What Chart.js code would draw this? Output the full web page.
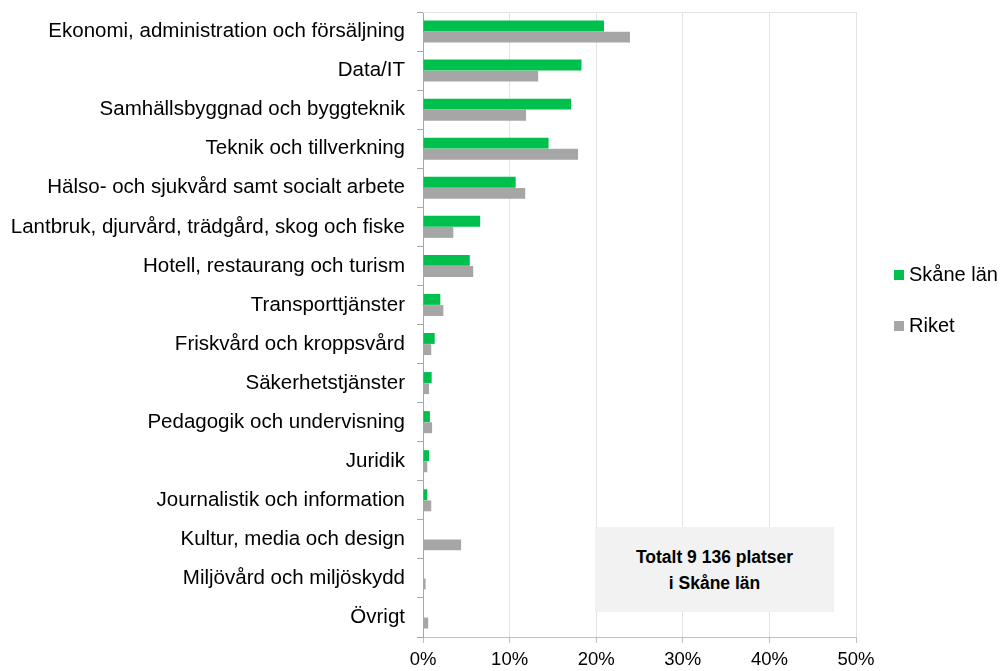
<!DOCTYPE html>
<html lang="sv">
<head>
<meta charset="utf-8">
<script src="https://cdn.jsdelivr.net/npm/chart.js@4"></script>
<style>
  html, body { margin: 0; padding: 0; background: #fff; }
  .wrap { position: relative; width: 1003px; height: 671px; font-family: 'Liberation Sans', Arial, sans-serif; }
  canvas { display: block; }
  .legend { position: absolute; left: 894px; top: 0; font-size: 20px; color: #000; }
  .legend__item { position: absolute; left: 0; white-space: nowrap; line-height: 22px; }
  .legend__dot { display: inline-block; width: 10px; height: 10px; margin-right: 5px; vertical-align: 1px; }
  .note { position: absolute; left: 595px; top: 527px; width: 239px; height: 85px; background: #f2f2f2;
          display: flex; align-items: center; justify-content: center; text-align: center;
          font-weight: bold; font-size: 17.5px; line-height: 26px; color: #000; }
</style>
</head>
<body>
<div class="wrap">
  <canvas id="barChart" width="1003" height="671"></canvas>
  <div class="legend" id="legend"></div>
  <div class="note">Totalt 9 136 platser<br>i Skåne län</div>
</div>
<script>
const categories = [
  'Ekonomi, administration och försäljning',
  'Data/IT',
  'Samhällsbyggnad och byggteknik',
  'Teknik och tillverkning',
  'Hälso- och sjukvård samt socialt arbete',
  'Lantbruk, djurvård, trädgård, skog och fiske',
  'Hotell, restaurang och turism',
  'Transporttjänster',
  'Friskvård och kroppsvård',
  'Säkerhetstjänster',
  'Pedagogik och undervisning',
  'Juridik',
  'Journalistik och information',
  'Kultur, media och design',
  'Miljövård och miljöskydd',
  'Övrigt'
];
const skane = [20.9, 18.3, 17.1, 14.5, 10.7, 6.6, 5.4, 2.0, 1.35, 1.0, 0.8, 0.7, 0.5, 0, 0, 0];
const riket = [23.9, 13.3, 11.9, 17.9, 11.8, 3.5, 5.8, 2.35, 0.95, 0.7, 1.05, 0.5, 0.95, 4.4, 0.3, 0.6];
const xTicks = [0, 10, 20, 30, 40, 50];

const GREEN = '#00c04d';
const GRAY = '#a6a6a6';

// ---- light frame line along the top of the plot ----
const topLine = {
  id: 'topLine',
  beforeDatasetsDraw(chart) {
    const { ctx, chartArea: a } = chart;
    ctx.save();
    ctx.strokeStyle = '#e3e3e3';
    ctx.lineWidth = 1;
    ctx.beginPath();
    ctx.moveTo(a.left, a.top + 0.5);
    ctx.lineTo(a.right, a.top + 0.5);
    ctx.stroke();
    ctx.restore();
  }
};

Chart.defaults.font.family = "'Liberation Sans', Arial, sans-serif";
Chart.defaults.color = '#000';

new Chart(document.getElementById('barChart'), {
  type: 'bar',
  data: {
    labels: categories,
    datasets: [
      { label: 'Skåne län', data: skane, backgroundColor: GREEN, barPercentage: 0.98, categoryPercentage: 0.57 },
      { label: 'Riket', data: riket, backgroundColor: GRAY, barPercentage: 0.98, categoryPercentage: 0.57 }
    ]
  },
  options: {
    indexAxis: 'y',
    responsive: false,
    animation: false,
    layout: { padding: { top: 12, right: 147, bottom: 0, left: 0 } },
    plugins: { legend: { display: false }, tooltip: { enabled: false } },
    scales: {
      x: {
        min: 0,
        max: 50,
        afterBuildTicks: s => { s.ticks = xTicks.map(v => ({ value: v })); },
        afterFit: s => { s.height = 34; },
        ticks: { font: { size: 18.5 }, padding: 6, callback: v => v + '%' },
        grid: { color: '#e3e3e3', tickColor: '#bfbfbf', tickLength: 6 },
        border: { color: '#bfbfbf' }
      },
      y: {
        afterFit: s => { s.width = 423; s.paddingTop = 0; s.paddingBottom = 0; },
        ticks: { font: { size: 20.5 }, padding: 12, autoSkip: false },
        grid: { drawOnChartArea: false, tickColor: '#a6a6a6', tickLength: 6, offset: true },
        border: { color: '#a6a6a6' }
      }
    }
  },
  plugins: [topLine]
});

// Build matching legend
const legendEl = document.getElementById('legend');
[['Skåne län', GREEN, 263], ['Riket', GRAY, 314]].forEach(([label, col, top]) => {
  const item = document.createElement('span');
  item.className = 'legend__item';
  item.style.top = top + 'px';
  item.innerHTML = `<span class="legend__dot" style="background:${col}"></span>${label}`;
  legendEl.appendChild(item);
});
</script>
</body>
</html>
